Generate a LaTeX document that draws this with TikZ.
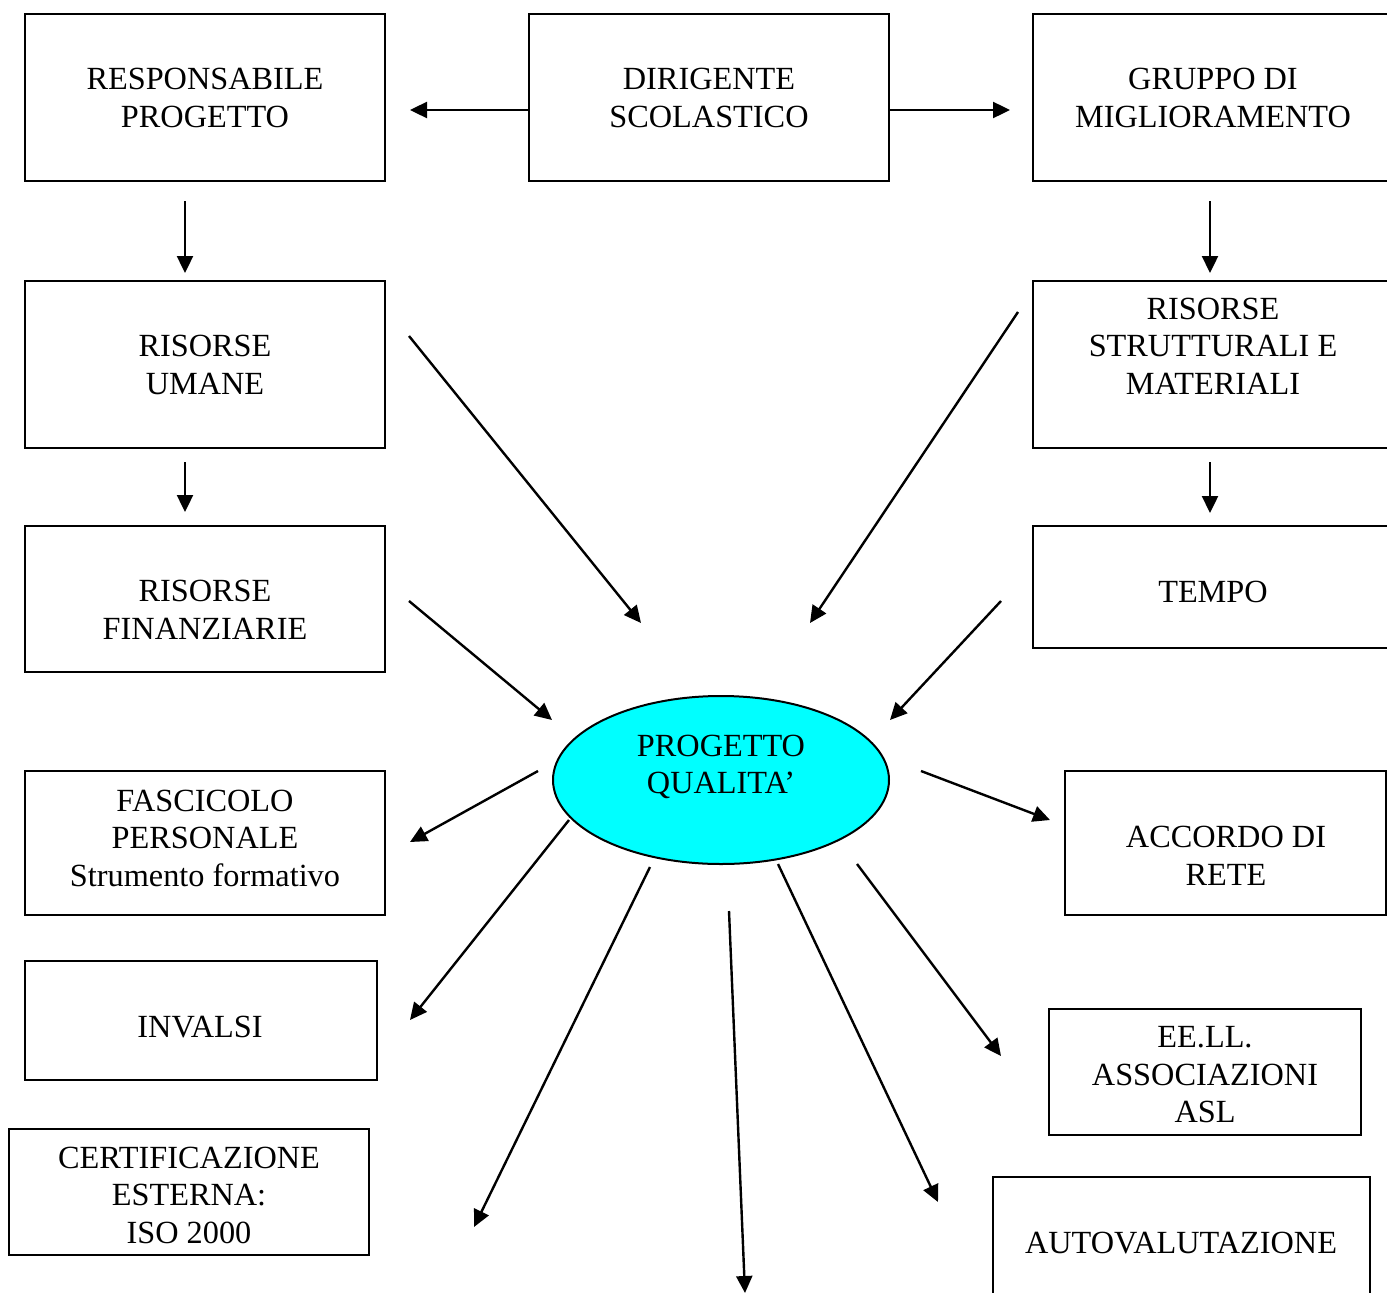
\documentclass[tikz,border=0pt]{standalone}
\usepackage{fontspec}
\setmainfont{Liberation Serif}
\usetikzlibrary{arrows.meta,shapes.geometric}
\definecolor{qcyan}{RGB}{0,255,255}
\begin{document}
\begin{tikzpicture}[x=1pt,y=-1pt,
  boxnode/.style={draw,line width=2pt,rectangle,inner sep=0pt},
  txt/.style={inner sep=0pt,align=center,font=\fontsize{32.3}{37.5}\selectfont},
  arr/.style={line width=2.4pt,-{Triangle[length=17pt,width=16pt]}}]
\useasboundingbox (0,0) rectangle (1387,1293);
\clip (0,0) rectangle (1387,1293);
% boxes
\node[boxnode,minimum width=360,minimum height=167] (resp) at (205,97.5) {};
\node[boxnode,minimum width=360,minimum height=167] (dir) at (709,97.5) {};
\node[boxnode,minimum width=360,minimum height=167] (grp) at (1213,97.5) {};
\node[boxnode,minimum width=360,minimum height=167] (umane) at (205,364.5) {};
\node[boxnode,minimum width=360,minimum height=167] (strutt) at (1213,364.5) {};
\node[boxnode,minimum width=360,minimum height=146] (fin) at (205,599) {};
\node[boxnode,minimum width=360,minimum height=122] (tempo) at (1213,587) {};
\node[boxnode,minimum width=360,minimum height=144] (fasc) at (205,843) {};
\node[boxnode,minimum width=321,minimum height=144] (acc) at (1225.5,843) {};
\node[boxnode,minimum width=352,minimum height=119] (inv) at (201,1020.5) {};
\node[boxnode,minimum width=312,minimum height=126] (eell) at (1205,1072) {};
\node[boxnode,minimum width=360,minimum height=126] (cert) at (189,1192) {};
\node[boxnode,minimum width=377,minimum height=160] (auto) at (1181.5,1257) {};
\node[draw,line width=2pt,ellipse,fill=qcyan,inner sep=0pt,minimum width=336,minimum height=168] (pq) at (721,780) {};
% texts
\node[txt] (respt) at (205,98) {RESPONSABILE\\PROGETTO};
\node[txt] (dirt) at (709,98) {DIRIGENTE\\SCOLASTICO};
\node[txt] (grpt) at (1213,98) {GRUPPO DI\\MIGLIORAMENTO};
\node[txt] (umanet) at (205,365) {RISORSE\\UMANE};
\node[txt] (struttt) at (1213,346) {RISORSE\\STRUTTURALI E\\MATERIALI};
\node[txt] (fint) at (205,610) {RISORSE\\FINANZIARIE};
\node[txt] (tempot) at (1213,592) {TEMPO};
\node[txt] (pqt) at (721,767) {PROGETTO\\QUALITA’};
\node[txt] (fasct) at (205,838) {FASCICOLO\\PERSONALE\\Strumento formativo};
\node[txt] (acct) at (1226,856) {ACCORDO DI\\RETE};
\node[txt] (invt) at (200,1027) {INVALSI};
\node[txt] (eellt) at (1205,1075) {EE.LL.\\ASSOCIAZIONI\\ASL};
\node[txt] (certt) at (189,1195) {CERTIFICAZIONE\\ESTERNA:\\ISO 2000};
\node[txt] (autot) at (1181,1243) {AUTOVALUTAZIONE};
% arrow end points
\coordinate (a1s) at (529,110); \coordinate (a1e) at (410,110);
\coordinate (a2s) at (889,110); \coordinate (a2e) at (1010,110);
\coordinate (a3s) at (185,201); \coordinate (a3e) at (185,273);
\coordinate (a4s) at (1210,201); \coordinate (a4e) at (1210,273);
\coordinate (a5s) at (185,462); \coordinate (a5e) at (185,512);
\coordinate (a6s) at (1210,462); \coordinate (a6e) at (1210,513);
\coordinate (a7s) at (409,336); \coordinate (a7e) at (641,623);
\coordinate (a8s) at (1018,312); \coordinate (a8e) at (810,623);
\coordinate (a9s) at (409,601); \coordinate (a9e) at (552,720);
\coordinate (a10s) at (1001,601); \coordinate (a10e) at (890,720);
\coordinate (a11s) at (538,771); \coordinate (a11e) at (410,842);
\coordinate (a12s) at (569,820); \coordinate (a12e) at (410,1020);
\coordinate (a13s) at (650,867); \coordinate (a13e) at (474,1227);
\coordinate (a14s) at (729,911); \coordinate (a14e) at (745,1293);
\coordinate (a15s) at (778,864); \coordinate (a15e) at (938,1202);
\coordinate (a16s) at (857,864); \coordinate (a16e) at (1001,1056);
\coordinate (a17s) at (921,771); \coordinate (a17e) at (1050,820);
% connectors
\draw[arr] (a1s) -- (a1e);
\draw[arr] (a2s) -- (a2e);
\draw[arr] (a3s) -- (a3e);
\draw[arr] (a4s) -- (a4e);
\draw[arr] (a5s) -- (a5e);
\draw[arr] (a6s) -- (a6e);
\draw[arr] (a7s) -- (a7e);
\draw[arr] (a8s) -- (a8e);
\draw[arr] (a9s) -- (a9e);
\draw[arr] (a10s) -- (a10e);
\draw[arr] (a11s) -- (a11e);
\draw[arr] (a12s) -- (a12e);
\draw[arr] (a13s) -- (a13e);
\draw[arr] (a14s) -- (a14e);
\draw[arr] (a15s) -- (a15e);
\draw[arr] (a16s) -- (a16e);
\draw[arr] (a17s) -- (a17e);
\end{tikzpicture}
\end{document}
